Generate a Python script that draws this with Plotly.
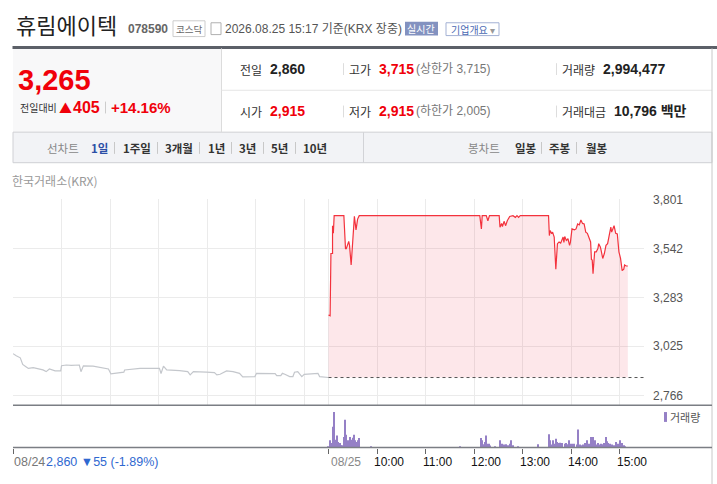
import plotly.graph_objects as go

# ---------------- data ----------------
prev_close = 2860
prev_times = ["09:00","09:02","09:04","09:09","09:12","09:16","09:19","09:25","09:31","09:37","09:41","09:45","09:52","09:59","10:00","10:06","10:12","10:22","10:24","10:27","10:39","10:47","10:58","11:01","11:12","11:17","11:18","11:28","11:37","12:01","12:03","12:06","12:10","12:26","12:36","12:39","12:43","12:59","13:09","13:12","13:16","13:24","13:32","13:40","13:44","13:59","14:01","14:24","14:26","14:31","14:33","14:36","14:42","14:46","14:48","14:52","14:57","15:00","15:11","15:17","15:19","15:30"]
prev_prices = [2986,2978,2975,2964,2929,2917,2908,2912,2905,2900,2891,2905,2895,2895,2922,2926,2924,2926,2891,2922,2920,2915,2905,2879,2884,2888,2900,2905,2908,2908,2881,2920,2900,2896,2891,2874,2891,2888,2886,2874,2877,2895,2891,2882,2863,2865,2882,2881,2870,2870,2882,2877,2865,2865,2888,2891,2865,2877,2882,2882,2865,2860]

today_times = ["09:00","09:02","09:03","09:05","09:05","09:06","09:07","09:19","09:21","09:22","09:25","09:26","09:28","09:30","09:32","09:34","09:36","09:38","12:07","12:09","12:10","12:15","12:17","12:19","12:31","12:32","12:34","12:35","12:37","12:39","12:41","12:44","12:48","12:51","12:53","12:55","12:57","13:32","13:33","13:34","13:36","13:37","13:39","13:41","13:43","13:45","13:47","13:50","13:51","13:52","13:54","13:56","13:58","13:59","14:01","14:04","14:06","14:08","14:10","14:12","14:14","14:16","14:18","14:20","14:22","14:24","14:25","14:26","14:27","14:29","14:31","14:33","14:34","14:36","14:37","14:39","14:41","14:43","14:45","14:47","14:49","14:50","14:52","14:53","14:55","14:57","14:59","15:01","15:03","15:05","15:06","15:08","15:10"]
today_prices = [3190,3186,3515,3515,3662,3622,3715,3715,3541,3541,3579,3558,3454,3602,3711,3640,3697,3715,3715,3645,3715,3715,3688,3715,3715,3654,3674,3657,3685,3662,3688,3711,3715,3706,3715,3706,3715,3715,3610,3636,3619,3628,3602,3432,3567,3576,3570,3602,3574,3605,3584,3593,3558,3574,3645,3640,3645,3671,3666,3692,3674,3671,3628,3622,3593,3576,3484,3480,3408,3524,3524,3541,3567,3550,3532,3489,3515,3558,3567,3610,3654,3628,3645,3662,3622,3619,3524,3489,3425,3432,3454,3449,3449]

vol_times = ["09:00","09:02","09:04","09:05","09:06","09:07","09:09","09:10","09:11","09:12","09:14","09:15","09:17","09:19","09:20","09:21","09:22","09:24","09:25","09:26","09:27","09:28","09:30","09:31","09:32","09:33","09:35","09:36","09:37","09:38","09:53","11:42","12:08","12:09","12:10","12:11","12:13","12:15","12:16","12:18","12:20","12:26","12:32","12:33","12:35","12:37","12:39","12:42","12:44","12:46","12:48","12:54","13:19","13:33","13:34","13:36","13:37","13:39","13:41","13:42","13:45","13:46","13:48","13:49","13:52","13:54","13:56","13:57","13:59","14:01","14:03","14:04","14:07","14:09","14:11","14:13","14:15","14:17","14:19","14:20","14:22","14:25","14:26","14:27","14:29","14:31","14:33","14:35","14:37","14:39","14:41","14:43","14:44","14:46","14:48","14:50","14:51","14:53","14:55","14:58","15:00","15:01","15:03","15:05","15:07"]
vol_k = [4,22,14,64,24,109,24,17,37,17,14,7,7,32,85,37,39,22,17,24,32,24,30,39,37,22,17,10,22,29,4,4,29,27,22,10,17,37,12,12,6,4,22,9,12,9,10,7,12,22,7,4,10,41,22,9,22,12,27,17,14,15,12,14,12,14,10,22,12,12,9,12,9,55,9,7,9,14,17,22,12,32,12,32,22,9,14,9,12,10,14,32,19,14,12,9,7,7,17,12,22,12,14,7,4]

y_ticks = [2766, 3025, 3283, 3542, 3801]
hour_labels = ["10:00", "11:00", "12:00", "13:00", "14:00", "15:00"]

# ---------------- helpers ----------------
W, H = 717, 484
KR = "Noto Sans CJK KR"
NUM = "Liberation Sans, Noto Sans CJK KR"
RED = "#f0000a"


def minutes(s, day):
    h, m = map(int, s.split(":"))
    return (h - 9) * 60 + m + (390 if day == 1 else 0)


prev_x = [minutes(t, 0) for t in prev_times]
today_x = [minutes(t, 1) for t in today_times]
vol_x = [minutes(t, 1) for t in vol_times]
hour_x = [minutes(t, 1) for t in hour_labels]

fig = go.Figure()

# baseline for the fill (previous close)
fig.add_trace(go.Scatter(x=today_x, y=[prev_close] * len(today_x), mode="lines",
                         line=dict(width=0, color="rgba(0,0,0,0)"), showlegend=False,
                         hoverinfo="skip"))
fig.add_trace(go.Scatter(x=today_x, y=today_prices, mode="lines", fill="tonexty",
                         fillcolor="rgba(240,60,80,0.12)",
                         line=dict(color="#f3323d", width=1.2), showlegend=False))
fig.add_trace(go.Scatter(x=prev_x, y=prev_prices, mode="lines",
                         line=dict(color="#c4c7cc", width=1.2), showlegend=False))
fig.add_trace(go.Bar(x=vol_x, y=vol_k, width=1.3, marker=dict(color="#9580c6", line=dict(width=0)),
                     xaxis="x2", yaxis="y2", showlegend=False))

xdom = [13 / W, 644 / W]
grid_vals = [0, 60, 120, 180, 240, 300, 360, 390] + hour_x
fig.update_layout(
    width=W, height=H, margin=dict(l=0, r=0, t=0, b=0),
    paper_bgcolor="white", plot_bgcolor="rgba(0,0,0,0)",
    hovermode=False, showlegend=False,
    xaxis=dict(domain=xdom, range=[0, 780], tickvals=grid_vals, showticklabels=False,
               showgrid=True, gridcolor="#ebebeb", gridwidth=1, zeroline=False,
               showline=False, ticks="", anchor="y", fixedrange=True),
    yaxis=dict(domain=[1 - 404 / H, 1 - 195 / H], range=[2714, 3802], side="right",
               tickvals=y_ticks, tickformat=",d", showgrid=True, gridcolor="#ebebeb",
               zeroline=False, showline=False, ticks="", ticklabelstandoff=8,
               tickfont=dict(family=NUM, size=12, color="#555"), anchor="x", fixedrange=True),
    xaxis2=dict(domain=xdom, range=[0, 780], tickvals=[0, 390] + hour_x, showticklabels=False,
                showgrid=False, zeroline=False, showline=False, ticks="outside", ticklen=5,
                tickcolor="#666", tickwidth=1, anchor="y2", fixedrange=True),
    yaxis2=dict(domain=[1 - 447 / H, 1 - 404 / H], range=[0, 130], visible=False,
                anchor="x2", fixedrange=True),
)


def P(x, y):
    return x / W, 1 - y / H


shapes = []


def rect(x0, y0, x1, y1, fill=None, line=None, lw=1, layer="below"):
    a0, b0 = P(x0, y0)
    a1, b1 = P(x1, y1)
    shapes.append(dict(type="rect", xref="paper", yref="paper", x0=a0, x1=a1, y0=b1, y1=b0,
                       fillcolor=fill or "rgba(0,0,0,0)",
                       line=dict(color=line or "rgba(0,0,0,0)", width=lw if line else 0),
                       layer=layer))


def hline(x0, x1, y, color, w=1, layer="above"):
    a0, b = P(x0, y)
    a1, _ = P(x1, y)
    shapes.append(dict(type="line", xref="paper", yref="paper", x0=a0, x1=a1, y0=b, y1=b,
                       line=dict(color=color, width=w), layer=layer))


def vline(x, y0, y1, color, w=1, layer="above"):
    a, b0 = P(x, y0)
    _, b1 = P(x, y1)
    shapes.append(dict(type="line", xref="paper", yref="paper", x0=a, x1=a, y0=b0, y1=b1,
                       line=dict(color=color, width=w), layer=layer))


# header panels
rect(13, 42, 221, 127, fill="#f8f8f9")
rect(13, 127, 712, 158, fill="#f2f3f6", line="#cfd0d4")
rect(12.5, 39.5, 717, 42.5, fill="#5c6068")
vline(221.5, 42, 127, "#dcdcdc")
hline(221.5, 712, 84.5, "#e6e6e6")
vline(712, 42, 484, "#c8c8c8")
vline(363.5, 127, 158, "#d2d3d7")
# badges
rect(173, 14, 205, 30, line="#cccccc")
rect(211, 16, 221, 28, line="#b0b0b0")
rect(405, 15, 438, 29, fill="#8392c0")
rect(446, 16, 499, 29, line="#a3b1d4")
# separators in info rows
for yy in (63, 106):
    vline(343.5, yy - 6, yy + 6, "#dddddd")
    vline(556.5, yy - 6, yy + 6, "#dddddd")
vline(105.5, 96, 108, "#cccccc")
for xx in (114.5, 157.5, 199.5, 231.5, 263.5, 295.5, 541.5, 576.5):
    vline(xx, 137, 149, "#c8c8c8")
# chart axis lines
hline(13, 712, 404, "#7b7e84", 1.5)
hline(13, 712, 447, "#7b7e84", 1.5)
# legend swatch
rect(664, 411, 667, 421, fill="#9580c6", layer="above")
# previous close dotted line
shapes.append(dict(type="line", xref="x", yref="y", x0=390, x1=780, y0=prev_close, y1=prev_close,
                   line=dict(color="#555", width=1, dash="dot"), layer="above"))

anns = []


def txt(text, x, y, size=12, color="#333", family=KR, anchor="left", bold=False):
    a, b = P(x, y)
    if bold:
        text = "<b>" + text + "</b>"
    anns.append(dict(text=text, x=a, y=b, xref="paper", yref="paper", xanchor=anchor,
                     yanchor="middle", showarrow=False, borderpad=0,
                     font=dict(family=family, size=size, color=color)))


# title row
txt("휴림에이텍", 15, 17.5, 22, "#222")
txt("078590", 127, 22, 12, "#666", NUM, bold=True)
txt("코스닥", 189, 22, 9.5, "#666", anchor="center")
txt("2026.08.25 15:17 기준(KRX 장중)", 224, 22, 12, "#555", NUM)
txt("실시간", 421.5, 22, 10, "white", anchor="center")
txt("기업개요 <span style='color:#999'>▾</span>", 472.5, 22.5, 10, "#4a69b3", anchor="center")

# price box
txt("3,265", 17, 74, 29, RED, NUM, bold=True)
txt("전일대비", 19, 102, 10, "#333")
txt("▲", 58, 101.5, 13, RED, KR)
txt("405", 72, 102, 16, RED, NUM, bold=True)
txt("+14.16%", 110, 102, 15, RED, NUM, bold=True)

# info rows
LBL = 12
txt("전일", 239, 63, LBL, "#333")
txt("2,860", 269, 63, 14, "#222", NUM, bold=True)
txt("고가", 348, 63, LBL, "#333")
txt("3,715", 378, 63, 14, RED, NUM, bold=True)
txt("(상한가 3,715)", 415, 63, 12, "#777", NUM)
txt("거래량", 561, 63, LBL, "#333")
txt("2,994,477", 602, 63, 14, "#222", NUM, bold=True)
txt("시가", 239, 106, LBL, "#333")
txt("2,915", 269, 106, 14, RED, NUM, bold=True)
txt("저가", 348, 106, LBL, "#333")
txt("2,915", 378, 106, 14, RED, NUM, bold=True)
txt("(하한가 2,005)", 415, 106, 12, "#777", NUM)
txt("거래대금", 561, 106, LBL, "#333")
txt("10,796 백만", 613, 106, 14, "#222", NUM, bold=True)

# tab bar
TAB = 11.5
txt("선차트", 46, 143, TAB, "#888")
txt("1일", 90, 143, TAB, "#2b4fa6", bold=True)
for label, xx in (("1주일", 122), ("3개월", 164), ("1년", 207), ("3년", 238), ("5년", 270), ("10년", 302)):
    txt(label, xx, 143, TAB, "#333", bold=True)
txt("봉차트", 467, 143, TAB, "#888")
for label, xx in (("일봉", 514), ("주봉", 548), ("월봉", 585)):
    txt(label, xx, 143, TAB, "#333", bold=True)

txt("한국거래소(KRX)", 11, 176, 12, "#999")
txt("거래량", 669, 416, 11, "#555")

# x-axis labels
txt("08/24", 13, 462, 12.5, "#777", NUM)
txt("2,860 ▼55 (-1.89%)", 45, 462, 12.5, "#2f68d0", NUM)
anns.append(dict(text="08/25", x=390, xref="x2", y=1 - 462 / H, yref="paper", xanchor="left",
                 yanchor="middle", showarrow=False, font=dict(family=NUM, size=12, color="#888")))
for lab, xv in zip(hour_labels, hour_x):
    anns.append(dict(text=lab, x=xv, xref="x2", y=1 - 462 / H, yref="paper", xanchor="left",
                     xshift=-5, yanchor="middle", showarrow=False,
                     font=dict(family=NUM, size=12, color="#111")))

fig.update_layout(shapes=shapes, annotations=anns)

fig.write_html("out.html", config={"displayModeBar": False},
               post_script="document.body.style.margin='0';")
